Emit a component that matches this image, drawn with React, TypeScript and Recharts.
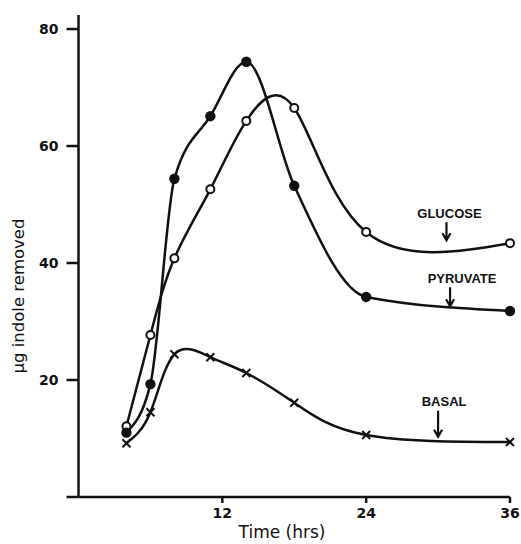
import React from 'react';
import {
  LineChart,
  Line,
  XAxis,
  YAxis,
  ReferenceDot,
  Label,
} from 'recharts';

// incubation time, hours
const hours = [4, 6, 8, 11, 14, 18, 24, 36];
// µg indole removed
const glucose = [12.1, 27.7, 40.8, 52.6, 64.3, 66.5, 45.3, 43.4];
const pyruvate = [11.0, 19.3, 54.4, 65.1, 74.4, 53.2, 34.2, 31.8];
const basal = [9.2, 14.5, 24.4, 23.9, 21.2, 16.1, 10.6, 9.4];

const xTicks = [12, 24, 36];
const yTicks = [0, 20, 40, 60, 80];

// curve labels with the arrow tip on the curve
const curveLabels = [
  { text: 'GLUCOSE', hour: 30.7, value: 43.9 },
  { text: 'PYRUVATE', hour: 31.0, value: 32.6 },
  { text: 'BASAL', hour: 30.0, value: 10.3 },
];

const rows = hours.map((h, i) => ({
  hour: h,
  glucose: glucose[i],
  pyruvate: pyruvate[i],
  basal: basal[i],
}));

const INK = '#111';
const FONT = '"Liberation Sans", Arial, sans-serif';
const TITLE_FONT = '"DejaVu Sans", sans-serif';

const arrowStyle: Record<string, { len: number; gap: number; dx: number }> = {
  GLUCOSE: { len: 18, gap: 9, dx: 3 },
  PYRUVATE: { len: 19, gap: 9, dx: 12 },
  BASAL: { len: 26, gap: 9, dx: 6 },
};

function OpenDot(props: any) {
  const { cx, cy } = props;
  if (cx == null || cy == null) return null;
  return <circle cx={cx} cy={cy} r={4} fill="#fff" stroke={INK} strokeWidth={2} />;
}

function FilledDot(props: any) {
  const { cx, cy } = props;
  if (cx == null || cy == null) return null;
  return <circle cx={cx} cy={cy} r={5.2} fill={INK} stroke="none" />;
}

function CrossDot(props: any) {
  const { cx, cy } = props;
  if (cx == null || cy == null) return null;
  const s = 4;
  return (
    <path
      d={`M${cx - s},${cy - s}L${cx + s},${cy + s}M${cx - s},${cy + s}L${cx + s},${cy - s}`}
      stroke={INK}
      strokeWidth={2}
      fill="none"
    />
  );
}

function ArrowLabel(props: any) {
  const { cx, cy, text } = props;
  if (cx == null || cy == null) return null;
  const st = arrowStyle[text];
  const top = cy - st.len;
  return (
    <g>
      <path
        d={`M${cx},${top}L${cx},${cy}M${cx - 4},${cy - 7}L${cx},${cy}L${cx + 4},${cy - 7}`}
        stroke={INK}
        strokeWidth={2.2}
        fill="none"
      />
      <text
        x={cx + st.dx}
        y={top - st.gap}
        textAnchor="middle"
        dominantBaseline="central"
        fontFamily={FONT}
        fontWeight="bold"
        fontSize={13}
        fill={INK}
      >
        {text}
      </text>
    </g>
  );
}

export default function App() {
  const tickStyle = { fill: INK, fontSize: 14, fontWeight: 'bold', fontFamily: TITLE_FONT };
  return (
    <div style={{ position: 'absolute', left: 0, top: 0, background: '#fff' }}>
      <LineChart
        width={521}
        height={544}
        data={rows}
        margin={{ top: 15, right: 11, bottom: 0, left: 0 }}
      >
        <XAxis
          dataKey="hour"
          type="number"
          domain={[0, 36]}
          ticks={xTicks}
          height={47}
          tick={tickStyle}
          tickSize={6}
          tickMargin={5}
          axisLine={{ stroke: INK, strokeWidth: 2.5 }}
          tickLine={{ stroke: INK, strokeWidth: 2.5 }}
        >
          <Label
            content={() => (
              <text
                x={282}
                y={532}
                textAnchor="middle"
                dominantBaseline="central"
                fontFamily={TITLE_FONT}
                fontWeight={500}
                fontSize={17}
                fill={INK}
              >
                Time (hrs)
              </text>
            )}
          />
        </XAxis>
        <YAxis
          type="number"
          domain={[0, 82.4]}
          ticks={yTicks}
          width={78.5}
          tick={tickStyle}
          tickFormatter={(v: number) => (v === 0 ? '' : String(v))}
          tickSize={12}
          tickMargin={8}
          axisLine={{ stroke: INK, strokeWidth: 2.5 }}
          tickLine={{ stroke: INK, strokeWidth: 2.5 }}
        >
          <Label
            content={() => (
              <text
                x={18}
                y={296}
                transform="rotate(-90 18 296)"
                textAnchor="middle"
                dominantBaseline="central"
                fontFamily={TITLE_FONT}
                fontSize={16.5}
                fill={INK}
              >
                µg indole removed
              </text>
            )}
          />
        </YAxis>
        <Line
          dataKey="glucose"
          type="natural"
          stroke={INK}
          strokeWidth={2.5}
          dot={<OpenDot />}
          activeDot={false}
          isAnimationActive={false}
        />
        <Line
          dataKey="pyruvate"
          type="monotone"
          stroke={INK}
          strokeWidth={2.5}
          dot={<FilledDot />}
          activeDot={false}
          isAnimationActive={false}
        />
        <Line
          dataKey="basal"
          type="natural"
          stroke={INK}
          strokeWidth={2.5}
          dot={<CrossDot />}
          activeDot={false}
          isAnimationActive={false}
        />
        {curveLabels.map((c) => (
          <ReferenceDot
            key={c.text}
            x={c.hour}
            y={c.value}
            shape={(p: any) => <ArrowLabel {...p} text={c.text} />}
          />
        ))}
      </LineChart>
    </div>
  );
}
